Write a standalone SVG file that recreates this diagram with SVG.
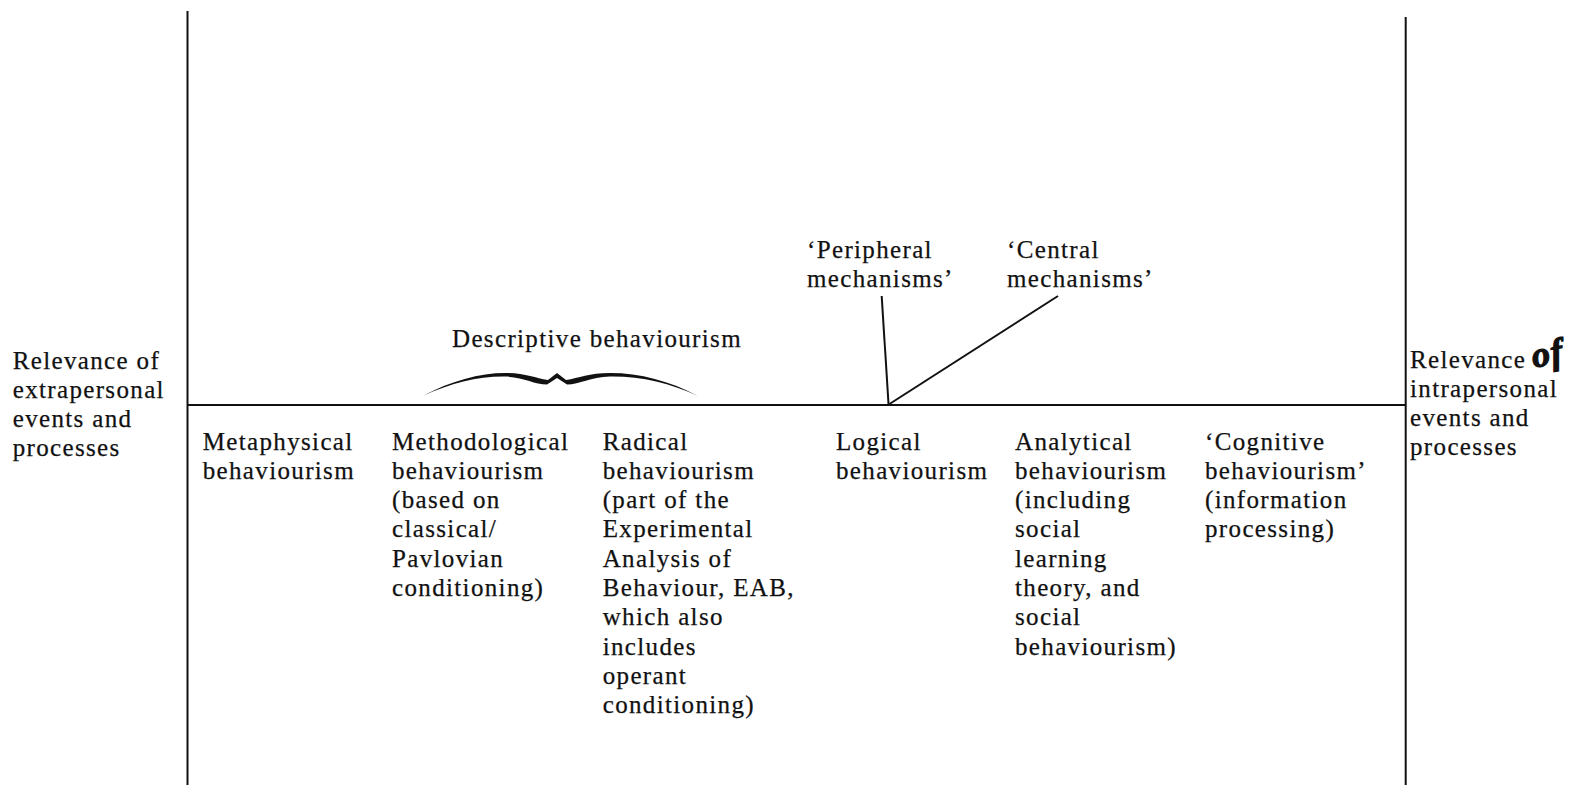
<svg xmlns="http://www.w3.org/2000/svg" width="1589" height="785" viewBox="0 0 1589 785">
<style>
text{font-family:"Liberation Serif","Times New Roman",serif;font-size:25px;letter-spacing:1.35px;fill:#111;stroke:#111;stroke-width:0.25}
.ln{stroke:#111;stroke-width:2;fill:none}
.hand{font-family:"Liberation Serif",serif;font-style:italic;font-weight:bold;font-size:36px;letter-spacing:1px;stroke-width:1.2}
</style>
<rect width="1589" height="785" fill="#fff"/>
<g id="connectors">
<line class="ln" x1="187.5" y1="11" x2="187.5" y2="785"/>
<line class="ln" x1="1405.7" y1="17" x2="1405.7" y2="785"/>
<line class="ln" x1="187.5" y1="405" x2="1405.7" y2="405"/>
<line class="ln" x1="881.7" y1="296" x2="888.5" y2="404"/>
<line class="ln" x1="1058" y1="296" x2="889.5" y2="404"/>
<path id="brace" fill="#111" d="M423,396 C450,381 480,373 505,373 C525,373 535,378 548,380 L557,373 L566,380 C579,378 589,373 610,373 C640,373 670,381 698,396 C670,383 640,376 610,376.5 C590,377 580,384.5 567,384.5 L557,378 L547,384.5 C534,384.5 524,377 505,376.5 C480,376 450,383 423,396 Z"/>
</g>
<g id="left-label">
<text x="12.7" y="369">Relevance of</text>
<text x="12.7" y="398">extrapersonal</text>
<text x="12.7" y="427">events and</text>
<text x="12.7" y="456">processes</text>
</g>
<g id="right-label">
<text x="1410" y="368">Relevance</text>
<text class="hand" x="1532" y="365" transform="rotate(-10 1548 356)">of</text>
<text x="1410" y="397">intrapersonal</text>
<text x="1410" y="426">events and</text>
<text x="1410" y="455">processes</text>
</g>
<g id="descriptive">
<text x="452" y="346.7">Descriptive behaviourism</text>
</g>
<g id="peripheral">
<text x="807" y="258">‘Peripheral</text>
<text x="807" y="287">mechanisms’</text>
</g>
<g id="central">
<text x="1007" y="258">‘Central</text>
<text x="1007" y="287">mechanisms’</text>
</g>
<g id="metaphysical">
<text x="202.7" y="449.5">Metaphysical</text>
<text x="202.7" y="478.8">behaviourism</text>
</g>
<g id="methodological">
<text x="392" y="449.5">Methodological</text>
<text x="392" y="478.8">behaviourism</text>
<text x="392" y="508.1">(based on</text>
<text x="392" y="537.4">classical/</text>
<text x="392" y="566.7">Pavlovian</text>
<text x="392" y="596">conditioning)</text>
</g>
<g id="radical">
<text x="602.7" y="449.5">Radical</text>
<text x="602.7" y="478.8">behaviourism</text>
<text x="602.7" y="508.1">(part of the</text>
<text x="602.7" y="537.4">Experimental</text>
<text x="602.7" y="566.7">Analysis of</text>
<text x="602.7" y="596">Behaviour, EAB,</text>
<text x="602.7" y="625.3">which also</text>
<text x="602.7" y="654.6">includes</text>
<text x="602.7" y="683.9">operant</text>
<text x="602.7" y="713.2">conditioning)</text>
</g>
<g id="logical">
<text x="836" y="449.5">Logical</text>
<text x="836" y="478.8">behaviourism</text>
</g>
<g id="analytical">
<text x="1015" y="449.5">Analytical</text>
<text x="1015" y="478.8">behaviourism</text>
<text x="1015" y="508.1">(including</text>
<text x="1015" y="537.4">social</text>
<text x="1015" y="566.7">learning</text>
<text x="1015" y="596">theory, and</text>
<text x="1015" y="625.3">social</text>
<text x="1015" y="654.6">behaviourism)</text>
</g>
<g id="cognitive">
<text x="1205" y="449.5">‘Cognitive</text>
<text x="1205" y="478.8">behaviourism’</text>
<text x="1205" y="508.1">(information</text>
<text x="1205" y="537.4">processing)</text>
</g>
</svg>
